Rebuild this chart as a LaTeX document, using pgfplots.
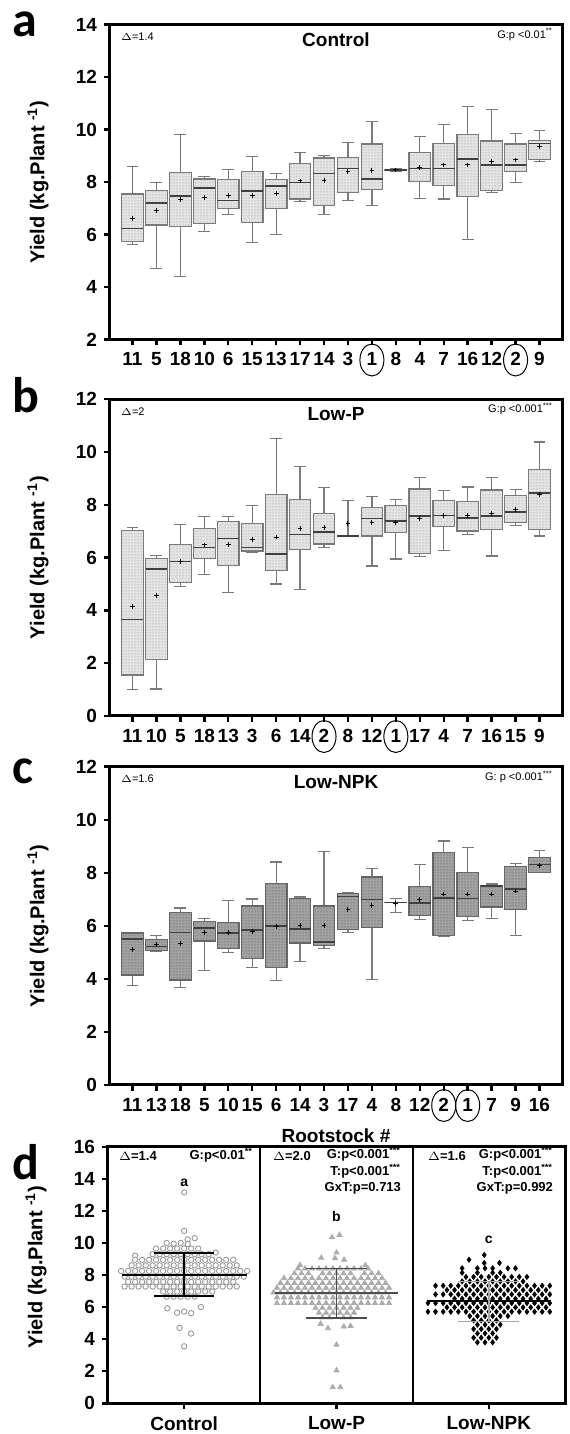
\documentclass[border=0pt]{standalone}
\usepackage{fontspec}
\setmainfont{Liberation Sans}
\newfontfamily\letterfont{Carlito}
\usepackage{pgfplots}
\pgfplotsset{compat=1.18}
\usepackage{pgfplotstable}
\usepgfplotslibrary{statistics}
\usetikzlibrary{patterns.meta}

\definecolor{boxedge}{HTML}{7A7A7A}
\definecolor{fillA}{HTML}{E4E4E4}
\definecolor{dotA}{HTML}{8C8C8C}
\definecolor{fillC}{HTML}{A2A2A2}
\definecolor{dotC}{HTML}{4A4A4A}

% box statistics per rootstock, in plotting order
\pgfplotstableread{
pos lw lq med uq uw mean
0 5.63 5.72 6.23 7.54 8.58 6.62
1 4.71 6.36 7.19 7.68 7.98 6.91
2 4.39 6.31 7.47 8.35 9.82 7.32
3 6.12 6.43 7.76 8.11 8.20 7.42
4 6.76 6.99 7.30 8.09 8.49 7.49
5 5.70 6.47 7.66 8.40 8.97 7.49
6 6.00 6.99 7.85 8.09 8.32 7.55
7 7.27 7.35 7.98 8.70 9.11 8.04
8 6.75 7.09 8.32 8.91 9.01 8.07
9 7.30 7.60 8.51 8.92 9.51 8.39
10 7.09 7.71 8.11 9.45 10.29 8.44
11 8.42 8.44 8.46 8.49 8.50 8.46
12 7.37 8.03 8.51 9.11 9.74 8.56
13 7.35 7.88 8.51 9.46 10.20 8.65
14 5.80 7.45 8.87 9.80 10.88 8.65
15 7.60 7.69 8.65 9.56 10.76 8.77
16 7.99 8.41 8.64 9.45 9.86 8.84
17 8.77 8.85 9.46 9.59 9.97 9.35
}\tblA

\pgfplotstableread{
pos lw lq med uq uw mean
0 0.99 1.55 3.66 7.02 7.14 4.14
1 1.02 2.15 5.56 5.96 6.08 4.56
2 4.90 5.07 5.86 6.51 7.25 5.86
3 5.37 5.97 6.38 7.09 7.57 6.48
4 4.69 5.70 6.73 7.36 7.57 6.51
5 6.19 6.25 6.38 7.29 7.97 6.68
6 5.00 5.51 6.14 8.39 10.50 6.78
7 4.79 6.32 6.87 8.19 9.44 7.09
8 6.39 6.52 6.97 7.68 8.65 7.15
9 6.82 6.82 6.83 6.84 8.16 7.28
10 5.68 6.82 7.48 7.91 8.31 7.34
11 5.95 6.96 7.38 7.97 8.19 7.34
12 6.03 6.16 7.58 8.60 9.03 7.49
13 6.27 7.17 7.60 8.16 8.54 7.60
14 6.88 7.01 7.50 8.12 8.68 7.60
15 6.06 7.07 7.58 8.56 9.03 7.68
16 7.21 7.34 7.73 8.34 8.59 7.82
17 6.82 7.07 8.46 9.35 10.38 8.39
}\tblB

\pgfplotstableread{
pos lw lq med uq uw mean
0 3.74 4.15 5.51 5.73 5.75 5.12
1 5.04 5.07 5.22 5.50 5.65 5.29
2 3.68 3.96 5.75 6.50 6.67 5.32
3 4.32 5.43 5.93 6.17 6.29 5.74
4 4.98 5.16 5.74 6.14 6.97 5.75
5 4.44 4.78 5.85 6.75 7.01 5.80
6 3.94 4.42 5.99 7.59 8.41 5.99
7 4.67 5.35 5.89 7.03 7.09 6.02
8 5.16 5.27 5.40 6.75 8.79 6.02
9 5.74 5.85 7.11 7.21 7.24 6.63
10 3.98 5.93 7.00 7.84 8.16 6.76
11 6.50 6.87 6.88 6.89 7.04 6.85
12 6.24 6.40 6.85 7.48 8.31 7.00
13 5.61 5.64 7.05 8.78 9.20 7.20
14 6.21 6.36 7.03 8.00 8.95 7.20
15 6.28 6.71 7.50 7.53 7.58 7.20
16 5.64 6.62 7.40 8.25 8.35 7.31
17 8.00 8.02 8.31 8.57 8.83 8.26
}\tblC

\pgfplotsset{
  panel/.style={
    scale only axis, anchor=south west, clip=false, clip mode=individual,
    axis line style={line width=1.5pt},
    tick align=outside, major tick length=3pt,
    tick style={black, line width=1.2pt},
    xtick pos=bottom, ytick pos=left,
    ticklabel style={font=\fontsize{9.5}{10}\selectfont\bfseries},
    /pgf/number format/assume math mode=true,
    ylabel={Yield (kg.Plant \textsuperscript{-1})},
    every axis y label/.style={at={(rel axis cs:0,0.5)}, xshift=-36pt, rotate=90, anchor=center,
      font=\fontsize{10}{12}\selectfont\bfseries},
  },
  boxpanel/.style={
    panel, width=226pt, xmin=-0.94, xmax=17.94, xtick={0,...,17},
    boxplot/draw direction=y,
    boxplot/box extend=0.9, boxplot/whisker extend=0.5,
    boxplot/every whisker/.style={draw=boxedge, line width=0.6pt},
    boxplot/every median/.style={draw=black!75, line width=0.8pt},
  },
  light boxes/.style={
    boxplot/every box/.style={draw=boxedge, line width=0.6pt, fill=fillA,
      postaction={pattern={Dots[distance=1.5pt,radius=0.25pt]}, pattern color=dotA}},
  },
  dark boxes/.style={
    boxplot/every box/.style={draw=black!60, line width=0.6pt, fill=fillC,
      postaction={pattern={Dots[distance=1.5pt,radius=0.25pt]}, pattern color=dotC}},
  },
  meanmark/.style={only marks, mark=+, mark size=1.2pt, mark options={line width=0.5pt}, black},
}
% one prepared box plot per table row
\newcommand{\boxesfrom}[2]{%
  \pgfplotsinvokeforeach{0,...,17}{%
    \pgfplotstablegetelem{##1}{lw}\of#1\edef\vlw{\pgfplotsretval}%
    \pgfplotstablegetelem{##1}{lq}\of#1\edef\vlq{\pgfplotsretval}%
    \pgfplotstablegetelem{##1}{med}\of#1\edef\vmed{\pgfplotsretval}%
    \pgfplotstablegetelem{##1}{uq}\of#1\edef\vuq{\pgfplotsretval}%
    \pgfplotstablegetelem{##1}{uw}\of#1\edef\vuw{\pgfplotsretval}%
    \edef\doplot{\noexpand\addplot[draw=#2, boxplot prepared={draw position=##1,
      lower whisker=\vlw, lower quartile=\vlq, median=\vmed,
      upper quartile=\vuq, upper whisker=\vuw}] coordinates {};}%
    \doplot
  }%
  \addplot[meanmark] table[x=pos, y=mean] {#1};%
}
\newcommand{\corner}[2]{%
  \node[anchor=west, font=\fontsize{5.5}{6}\selectfont] at (rel axis cs:0,1) [xshift=2pt, yshift=-6pt] {#1};
  \node[anchor=east, font=\fontsize{5.5}{6}\selectfont] at (rel axis cs:1,1) [xshift=-1pt, yshift=-5pt] {#2};}
\newcommand{\paneltitle}[1]{%
  \node[font=\fontsize{9.5}{10}\selectfont\bfseries] at (rel axis cs:0.5,1) [yshift=-7.5pt] {#1};}
\newcommand{\ring}[2]{\draw[line width=0.5pt] ([yshift=-10.25pt]axis cs:#1,#2) ellipse [x radius=6pt, y radius=8pt];}

\begin{document}
\begin{tikzpicture}
\useasboundingbox (0,0) rectangle (284.5pt,717pt);

% ---- a: Control
\begin{axis}[boxpanel, light boxes, at={(55pt,547.25pt)}, height=157.5pt,
  ymin=2, ymax=14, ytick={2,4,...,14},
  xticklabels={11,5,18,10,6,15,13,17,14,3,1,8,4,7,16,12,2,9}]
\boxesfrom{\tblA}{boxedge}
\paneltitle{Control}
\corner{$\Delta$=1.4}{G:p <0.01\textsuperscript{**}}
\ring{10}{2}\ring{16}{2}
\end{axis}

% ---- b: Low-P
\begin{axis}[boxpanel, light boxes, at={(55pt,359pt)}, height=158.35pt,
  ymin=0, ymax=12, ytick={0,2,...,12},
  xticklabels={11,10,5,18,13,3,6,14,2,8,12,1,17,4,7,16,15,9}]
\boxesfrom{\tblB}{boxedge}
\paneltitle{Low-P}
\corner{$\Delta$=2}{G:p <0.001\textsuperscript{***}}
\ring{8}{0}\ring{11}{0}
\end{axis}

% ---- c: Low-NPK
\begin{axis}[boxpanel, dark boxes, at={(55pt,174.5pt)}, height=159.15pt,
  ymin=0, ymax=12, ytick={0,2,...,12},
  xticklabels={11,13,18,5,10,15,6,14,3,17,4,8,12,2,1,7,9,16}]
\boxesfrom{\tblC}{black!60}
\paneltitle{Low-NPK}
\corner{$\Delta$=1.6}{G: p <0.001\textsuperscript{***}}
\ring{13}{0}\ring{14}{0}
\end{axis}
\node[font=\fontsize{9.5}{10}\selectfont\bfseries] at (168pt,149pt) {Rootstock \#};

% ---- d: pooled
\begin{axis}[panel, at={(54pt,15.35pt)}, width=228.5pt, height=128.3pt,
  xmin=-0.5, xmax=2.5, ymin=0, ymax=16, ytick={0,2,...,16},
  xtick={0,1,2}, xticklabels={Control,Low-P,Low-NPK},
  every axis y label/.append style={xshift=4pt}]
\draw[line width=0.9pt] (axis cs:0.5,0) -- (axis cs:0.5,16);
\draw[line width=0.9pt] (axis cs:1.5,0) -- (axis cs:1.5,16);
% Control
\addplot[only marks, mark=*, mark size=1.35pt, mark options={fill=white, draw=gray!80, line width=0.45pt}] coordinates {
(0,13.15) (0,10.75) (0.023,10.22) (0.069,10.3)
(-0.115,10.0) (-0.069,9.95) (-0.023,10.0) (0.023,9.93)
(-0.184,9.65) (-0.138,9.65) (-0.092,9.65) (-0.046,9.65) (0,9.65) (0.046,9.65) (0.092,9.65)
(-0.322,9.2) (-0.207,9.3) (-0.161,9.3) (-0.115,9.3) (-0.069,9.3) (-0.023,9.3) (0.023,9.3) (0.069,9.3) (0.115,9.3) (0.161,9.3) (0.207,9.4)
(-0.322,8.95) (-0.276,8.95) (-0.230,8.95) (-0.184,8.95) (-0.138,8.95) (-0.092,8.95) (-0.046,8.95) (0,8.95) (0.046,8.95) (0.092,8.95) (0.138,8.95) (0.184,8.95) (0.230,8.95) (0.276,8.95) (0.322,8.95)
(-0.345,8.6) (-0.299,8.6) (-0.253,8.6) (-0.207,8.6) (-0.161,8.6) (-0.115,8.6) (-0.069,8.6) (-0.023,8.6) (0.023,8.6) (0.069,8.6) (0.115,8.6) (0.161,8.6) (0.207,8.6) (0.253,8.6) (0.299,8.6) (0.345,8.6)
(-0.414,8.25) (-0.368,8.25) (-0.322,8.25) (-0.276,8.25) (-0.230,8.25) (-0.184,8.25) (-0.138,8.25) (-0.092,8.25) (-0.046,8.25) (0,8.25) (0.046,8.25) (0.092,8.25) (0.138,8.25) (0.184,8.25) (0.230,8.25) (0.276,8.25) (0.322,8.25) (0.368,8.25) (0.414,8.25)
(-0.391,7.9) (-0.345,7.9) (-0.299,7.9) (-0.253,7.9) (-0.207,7.9) (-0.161,7.9) (-0.115,7.9) (-0.069,7.9) (-0.023,7.9) (0.023,7.9) (0.069,7.9) (0.115,7.9) (0.161,7.9) (0.207,7.9) (0.253,7.9) (0.299,7.9) (0.345,7.9) (0.391,7.9)
(-0.368,7.57) (-0.322,7.57) (-0.276,7.57) (-0.230,7.57) (-0.184,7.57) (-0.138,7.57) (-0.092,7.57) (-0.046,7.57) (0,7.57) (0.046,7.57) (0.092,7.57) (0.138,7.57) (0.184,7.57) (0.230,7.57) (0.276,7.57) (0.322,7.57)
(-0.391,7.28) (-0.345,7.28) (-0.299,7.28) (-0.253,7.28) (-0.207,7.28) (-0.161,7.28) (-0.115,7.28) (-0.069,7.28) (-0.023,7.28) (0.023,7.28) (0.069,7.28) (0.115,7.28) (0.161,7.28) (0.207,7.28) (0.253,7.28) (0.299,7.28) (0.345,7.28)
(-0.138,6.97) (-0.092,6.97) (-0.046,6.97) (0,6.97) (0.046,6.97) (0.092,6.97) (0.138,6.97) (0.184,6.97)
(-0.115,6.65) (-0.069,6.65) (-0.023,6.65) (0.023,6.65) (0.069,6.65)
(-0.11,5.92) (0.11,6.0) (-0.046,5.65) (0,5.72) (0.046,5.62) (-0.03,4.7) (0.045,4.35) (0,3.55)
};
\addplot[black, line width=1pt] coordinates {(-0.41,8.0) (0.41,8.0)};
\addplot[black, line width=0.7pt] coordinates {(0,6.7) (0,9.37)};
\addplot[black, line width=0.7pt] coordinates {(-0.195,9.37) (0.195,9.37)};
\addplot[black, line width=0.7pt] coordinates {(-0.195,6.7) (0.195,6.7)};
% Low-P
\addplot[only marks, mark=triangle*, mark size=1.45pt, mark options={fill=gray!65, draw=gray!65}] coordinates {
(1.02,10.5) (0.97,10.35) (1.0,9.4) (0.90,9.07) (0.99,9.05) (1.05,8.95) (0.76,8.62) (1.19,8.6)
(0.747,8.4) (0.793,8.4) (0.839,8.4) (0.885,8.4) (0.931,8.4) (0.977,8.4) (1.023,8.4) (1.069,8.4) (1.115,8.4) (1.161,8.4) (1.207,8.4)
(0.724,8.1) (0.770,8.1) (0.816,8.1) (0.908,8.1) (0.954,8.1) (1.0,8.1) (1.046,8.1) (1.092,8.1) (1.184,8.1) (1.230,8.1) (1.276,8.1)
(0.655,7.8) (0.701,7.8) (0.747,7.8) (0.793,7.8) (0.839,7.8) (0.885,7.8) (0.931,7.8) (0.977,7.8) (1.023,7.8) (1.069,7.8) (1.115,7.8) (1.161,7.8) (1.207,7.8) (1.253,7.8) (1.299,7.8)
(0.632,7.5) (0.678,7.5) (0.724,7.5) (0.770,7.5) (0.816,7.5) (0.862,7.5) (0.908,7.5) (0.954,7.5) (1.0,7.5) (1.046,7.5) (1.092,7.5) (1.138,7.5) (1.184,7.5) (1.230,7.5) (1.276,7.5) (1.322,7.5)
(0.609,7.2) (0.655,7.2) (0.701,7.2) (0.747,7.2) (0.793,7.2) (0.839,7.2) (0.885,7.2) (0.931,7.2) (0.977,7.2) (1.023,7.2) (1.069,7.2) (1.115,7.2) (1.161,7.2) (1.207,7.2) (1.253,7.2) (1.299,7.2) (1.345,7.2)
(0.586,6.9) (0.632,6.9) (0.678,6.9) (0.724,6.9) (0.770,6.9) (0.816,6.9) (0.862,6.9) (0.908,6.9) (0.954,6.9) (1.0,6.9) (1.046,6.9) (1.092,6.9) (1.138,6.9) (1.184,6.9) (1.230,6.9) (1.276,6.9) (1.322,6.9)
(0.609,6.6) (0.655,6.6) (0.701,6.6) (0.747,6.6) (0.793,6.6) (0.839,6.6) (0.885,6.6) (0.931,6.6) (0.977,6.6) (1.023,6.6) (1.069,6.6) (1.115,6.6) (1.161,6.6) (1.207,6.6) (1.253,6.6) (1.299,6.6) (1.345,6.6)
(0.609,6.25) (0.655,6.25) (0.701,6.25) (0.747,6.25) (0.793,6.25) (0.839,6.25) (0.885,6.25) (0.931,6.25) (0.977,6.25) (1.023,6.25) (1.069,6.25) (1.115,6.25) (1.161,6.25) (1.207,6.25) (1.253,6.25) (1.299,6.25) (1.345,6.25)
(0.862,5.95) (0.908,5.95) (0.954,5.95) (1.0,5.95) (1.046,5.95) (1.092,5.95) (1.138,5.95)
(0.885,5.65) (0.931,5.65) (0.977,5.65) (1.023,5.65) (1.069,5.65) (1.115,5.65)
(0.908,5.35) (0.954,5.35) (1.046,5.35) (1.092,5.35)
(0.896,4.95) (0.944,4.68) (1.048,4.78) (1.092,4.82) (1.0,3.65) (1.0,2.05) (0.975,1.0) (1.025,1.0)
};
\addplot[black!70, line width=1pt] coordinates {(0.595,6.85) (1.405,6.85)};
\addplot[black!70, line width=0.7pt] coordinates {(1,5.33) (1,8.4)};
\addplot[black!70, line width=0.7pt] coordinates {(0.8,8.4) (1.2,8.4)};
\addplot[black!70, line width=0.7pt] coordinates {(0.8,5.33) (1.2,5.33)};
% Low-NPK
\addplot[only marks, mark=diamond*, mark size=1.25pt, black] coordinates {
(1.97,9.25) (1.87,8.95) (1.97,8.75) (2.07,8.75)
(1.825,8.42) (1.925,8.42) (1.975,8.42) (2.025,8.42) (2.125,8.42) (2.175,8.42)
(1.825,8.14) (1.925,8.14) (2.025,8.14) (2.075,8.14)
(1.85,7.88) (1.90,7.88) (1.95,7.88) (2.00,7.88) (2.05,7.88) (2.10,7.88) (2.15,7.88) (2.20,7.88) (2.25,7.88)
(1.825,7.6) (1.875,7.6) (1.925,7.6) (1.975,7.6) (2.025,7.6) (2.075,7.6) (2.125,7.6) (2.175,7.6) (2.225,7.6)
(1.65,7.33) (1.70,7.33) (1.75,7.33) (1.80,7.33) (1.85,7.33) (1.90,7.33) (1.95,7.33) (2.00,7.33) (2.05,7.33) (2.10,7.33) (2.15,7.33) (2.20,7.33) (2.25,7.33) (2.30,7.33) (2.35,7.33) (2.40,7.33)
(1.725,7.06) (1.775,7.06) (1.825,7.06) (1.875,7.06) (1.925,7.06) (1.975,7.06) (2.025,7.06) (2.075,7.06) (2.125,7.06) (2.175,7.06) (2.225,7.06) (2.275,7.06) (2.325,7.06) (2.375,7.06)
(1.65,6.79) (1.70,6.79) (1.75,6.79) (1.80,6.79) (1.85,6.79) (1.90,6.79) (1.95,6.79) (2.00,6.79) (2.05,6.79) (2.10,6.79) (2.15,6.79) (2.20,6.79) (2.25,6.79) (2.30,6.79) (2.35,6.79) (2.40,6.79)
(1.775,6.52) (1.825,6.52) (1.875,6.52) (1.925,6.52) (1.975,6.52) (2.025,6.52) (2.075,6.52) (2.125,6.52) (2.175,6.52) (2.225,6.52) (2.275,6.52) (2.325,6.52) (2.375,6.52)
(1.60,6.25) (1.65,6.25) (1.70,6.25) (1.75,6.25) (1.80,6.25) (1.85,6.25) (1.90,6.25) (1.95,6.25) (2.00,6.25) (2.05,6.25) (2.10,6.25) (2.15,6.25) (2.20,6.25) (2.25,6.25) (2.30,6.25) (2.35,6.25) (2.40,6.25)
(1.725,5.98) (1.775,5.98) (1.825,5.98) (1.875,5.98) (1.925,5.98) (1.975,5.98) (2.025,5.98) (2.075,5.98) (2.125,5.98) (2.175,5.98) (2.225,5.98) (2.275,5.98) (2.325,5.98) (2.375,5.98)
(1.60,5.71) (1.65,5.71) (1.70,5.71) (1.75,5.71) (1.80,5.71) (1.85,5.71) (1.90,5.71) (1.95,5.71) (2.00,5.71) (2.05,5.71) (2.10,5.71) (2.15,5.71) (2.20,5.71) (2.25,5.71) (2.30,5.71) (2.35,5.71) (2.40,5.71)
(1.875,5.44) (1.925,5.44) (1.975,5.44) (2.025,5.44) (2.075,5.44) (2.125,5.44)
(1.90,5.17) (1.95,5.17) (2.00,5.17) (2.05,5.17)
(1.925,4.9) (1.975,4.9) (2.025,4.9) (2.075,4.9)
(1.90,4.63) (1.95,4.63) (2.00,4.63) (2.05,4.63)
(1.925,4.36) (1.975,4.36) (2.025,4.36)
(1.90,4.09) (1.95,4.09) (2.00,4.09) (2.05,4.09)
(1.925,3.8) (1.975,3.8) (2.025,3.8)
};
\addplot[black, line width=1pt] coordinates {(1.595,6.36) (2.405,6.36)};
\addplot[gray!70, line width=0.7pt] coordinates {(2,5.1) (2,7.6)};
\addplot[gray!70, line width=0.7pt] coordinates {(1.8,7.6) (2.2,7.6)};
\addplot[gray!70, line width=0.7pt] coordinates {(1.8,5.1) (2.2,5.1)};
% annotations
\node[font=\fontsize{7}{8}\selectfont\bfseries] at (axis cs:0,13.75) {a};
\node[font=\fontsize{7}{8}\selectfont\bfseries] at (axis cs:1,11.65) {b};
\node[font=\fontsize{7}{8}\selectfont\bfseries] at (axis cs:2,10.2) {c};
\end{axis}

\begin{scope}[font=\fontsize{6.5}{8}\selectfont\bfseries]
\node[anchor=west] at (56pt,139pt) {$\Delta$=1.4};
\node[anchor=east] at (130pt,139.5pt) {G:p<0.01\textsuperscript{**}};
\node[anchor=west] at (133pt,139pt) {$\Delta$=2.0};
\node[anchor=east] at (204pt,140pt) {G:p<0.001\textsuperscript{***}};
\node[anchor=east] at (204pt,131.5pt) {T:p<0.001\textsuperscript{***}};
\node[anchor=east] at (204pt,123pt) {GxT:p=0.713};
\node[anchor=west] at (210.5pt,139pt) {$\Delta$=1.6};
\node[anchor=east] at (280pt,140pt) {G:p<0.001\textsuperscript{***}};
\node[anchor=east] at (280pt,131.5pt) {T:p<0.001\textsuperscript{***}};
\node[anchor=east] at (280pt,123pt) {GxT:p=0.992};
\end{scope}

\begin{scope}[font=\letterfont\bfseries\fontsize{25}{25}\selectfont]
\node[anchor=base west, inner sep=0pt] at (6pt,698.5pt) {a};
\node[anchor=base west, inner sep=0pt] at (6pt,510.5pt) {b};
\node[anchor=base west, inner sep=0pt] at (6pt,325pt) {c};
\node[anchor=base west, inner sep=0pt] at (6pt,127pt) {d};
\end{scope}
\end{tikzpicture}
\end{document}
